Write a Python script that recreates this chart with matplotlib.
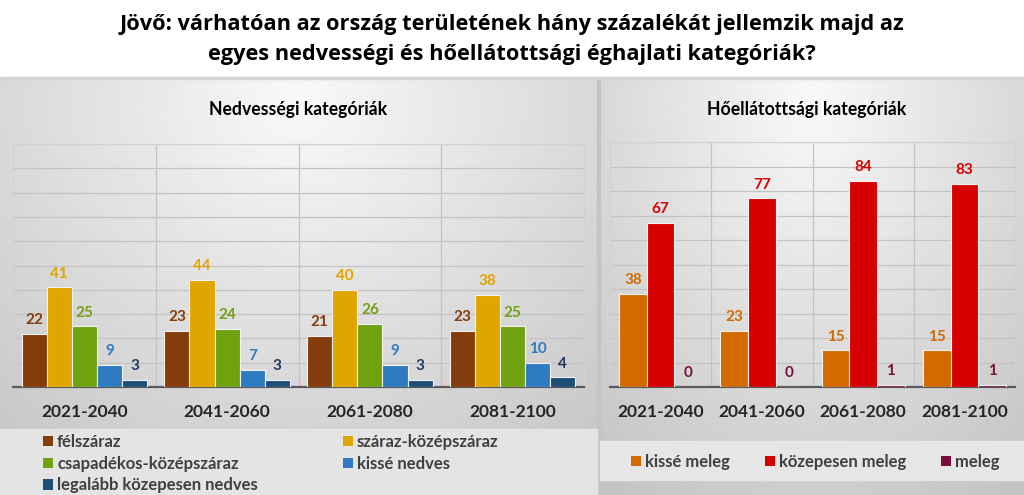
import numpy as np
import matplotlib.pyplot as plt
from matplotlib.patches import Patch, Rectangle

# ---- data ----
periods = ['2021-2040', '2041-2060', '2061-2080', '2081-2100']

moist_names = ['félszáraz', 'száraz-középszáraz', 'csapadékos-középszáraz',
               'kissé nedves', 'legalább közepesen nedves']
felszaraz = [22, 23, 21, 23]
szaraz_kozepszaraz = [41, 44, 40, 38]
csapadekos_kozepszaraz = [25, 24, 26, 25]
kisse_nedves = [9, 7, 9, 10]
legalabb_kozepesen_nedves = [3, 3, 3, 4]

heat_names = ['kissé meleg', 'közepesen meleg', 'meleg']
kisse_meleg = [38, 23, 15, 15]
kozepesen_meleg = [67, 77, 84, 83]
meleg = [0, 0, 1, 1]

title = ('Jövő: várhatóan az ország területének hány százalékát jellemzik majd az\n'
         'egyes nedvességi és hőellátottsági éghajlati kategóriák?')

# ---- styles ----
moist_colors = ['#843C0C', '#DFA500', '#70A10F', '#2E7BC2', '#1F4E79']
moist_label_colors = ['#843C0C', '#DFA500', '#70A10F', '#2E7BC2', '#1F3864']
heat_colors = ['#D26A00', '#D60000', '#7A0F3E']
heat_label_colors = ['#D26A00', '#D60000', '#7A0F3E']

FONT = 'Lato'
W, H = 1024, 495
fig = plt.figure(figsize=(W / 100, H / 100), dpi=100)


def px_axes(x0, y0, x1, y1):
    """axes placed in pixel coords measured from the top left"""
    return fig.add_axes([x0 / W, 1 - y1 / H, (x1 - x0) / W, (y1 - y0) / H])


def panel_bg(x0, y0, x1, y1):
    ax = px_axes(x0, y0, x1, y1)
    ax.set_axis_off()
    ax.set_zorder(-10)
    yy, xx = np.mgrid[0:1:200j, 0:1:300j]
    r = np.sqrt(((xx - 0.5) / 0.75) ** 2 + ((yy - 0.05) / 1.05) ** 2)
    v = 0.975 - 0.19 * r
    ax.imshow(v, cmap='gray', vmin=0, vmax=1, aspect='auto',
              extent=(0, 1, 1, 0), interpolation='bilinear')
    ax.set_xlim(0, 1)
    ax.set_ylim(1, 0)
    return ax


panel_bg(0, 78, 597, 495)
panel_bg(600, 78, 1024, 495)
fig.patches.append(Rectangle((597 / W, 0), 3 / W, 1 - 78 / H,
                             transform=fig.transFigure, color='#c4c4c4', zorder=-5))
fig.patches.append(Rectangle((0, 1 - 79 / H), 1, 1.5 / H,
                             transform=fig.transFigure, color='#d4d4d4', zorder=-5))
# legend boxes
fig.patches.append(Rectangle((0, 0), 597 / W, (495 - 429) / H,
                             transform=fig.transFigure, color='#e4e4e4', zorder=-4))
fig.patches.append(Rectangle((600 / W, (495 - 480) / H), 424 / W, 39 / H,
                             transform=fig.transFigure, color='#e6e6e6', zorder=-4))

fig.text(0.5, 1 - 39.5 / H, title, ha='center', va='center', fontsize=15.7,
         fontweight='bold', family='Open Sans', linespacing=1.6, color='black')


def setup_axes(ax, subtitle, sub_x):
    ax.set_facecolor('none')
    ax.set_xlim(-0.5, 3.5)
    ax.set_ylim(0, 100)
    ax.set_yticks(np.arange(0, 101, 10))
    ax.set_yticklabels([])
    ax.set_xticks(np.arange(len(periods)))
    ax.set_xticklabels(periods, fontsize=12.5, fontweight='bold', family=FONT,
                       color='#262626')
    ax.set_xticks(np.arange(0.5, 3, 1), minor=True)
    ax.tick_params(axis='both', which='both', length=0)
    ax.tick_params(axis='x', pad=12.5)
    ax.grid(axis='y', which='major', color='#c3c3c3', lw=0.9)
    ax.grid(axis='x', which='minor', color='#c3c3c3', lw=0.9)
    ax.set_axisbelow(True)
    for s in ['left', 'right', 'top']:
        ax.spines[s].set_color('#d2d2d2')
        ax.spines[s].set_linewidth(0.8)
    ax.spines['bottom'].set_color('#595959')
    ax.spines['bottom'].set_linewidth(1.6)
    fig.text(sub_x / W, 1 - 110 / H, subtitle, ha='center', va='center',
             fontsize=12.7, fontweight='bold', family=FONT, color='black')


def grouped_bars(ax, series, colors, label_colors, group_width):
    n = len(series)
    w = group_width / n
    x = np.arange(len(periods))
    for i, (vals, c, lc) in enumerate(zip(series, colors, label_colors)):
        pos = x + (i - (n - 1) / 2) * w
        bars = ax.bar(pos, vals, width=w, color=c, edgecolor='#f2f2f2',
                      linewidth=0.8, zorder=3)
        for b, v in zip(bars, vals):
            ax.annotate(str(v), (b.get_x() + b.get_width() / 2, v),
                        xytext=(0, 7), textcoords='offset points',
                        ha='center', va='baseline', fontsize=11,
                        fontweight='bold', family=FONT, color=lc, zorder=4)


# ---- left chart: moisture ----
ax1 = px_axes(13, 144, 584, 387)
setup_axes(ax1, 'Nedvességi kategóriák', 298)
moist_series = [felszaraz, szaraz_kozepszaraz, csapadekos_kozepszaraz,
                kisse_nedves, legalabb_kozepesen_nedves]
grouped_bars(ax1, moist_series, moist_colors, moist_label_colors, 0.88)

# ---- right chart: heat ----
ax2 = px_axes(610, 142, 1015, 387)
setup_axes(ax2, 'Hőellátottsági kategóriák', 807)
heat_series = [kisse_meleg, kozepesen_meleg, meleg]
grouped_bars(ax2, heat_series, heat_colors, heat_label_colors, 0.82)

# ---- legends ----
leg_font = {'family': FONT, 'size': 12, 'weight': 'bold'}
mh = [Patch(facecolor=c, edgecolor='none') for c in moist_colors]
order = [0, 2, 4, 1, 3]
fig.legend([mh[i] for i in order], [moist_names[i] for i in order],
           ncol=2, loc='upper left', bbox_to_anchor=(43 / W, 1 - 434 / H),
           frameon=False, borderpad=0, borderaxespad=0,
           handlelength=0.6, handleheight=0.6, handletextpad=0.24,
           labelspacing=0.34, columnspacing=5.1,
           prop=leg_font, labelcolor='#404040')

hh = [Patch(facecolor=c, edgecolor='none') for c in heat_colors]
fig.legend(hh, heat_names, ncol=3, loc='center left',
           bbox_to_anchor=(631 / W, 1 - 462 / H),
           frameon=False, borderpad=0, borderaxespad=0,
           handlelength=0.6, handleheight=0.6, handletextpad=0.24,
           columnspacing=2.1,
           prop=leg_font, labelcolor='#404040')

fig.savefig('out.png', dpi=100)
